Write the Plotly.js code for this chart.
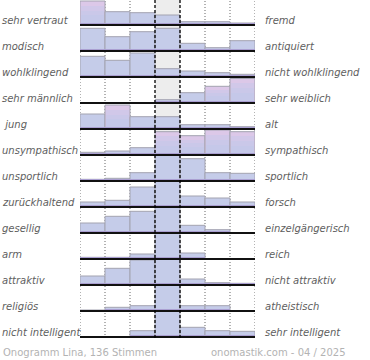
<!DOCTYPE html>
<html>
<head>
<meta charset="utf-8">
<script src="https://cdn.plot.ly/plotly-3.0.1.min.js"></script>
<style>html,body{margin:0;padding:0;background:#fff}#chart{width:370px;height:360px}</style>
</head>
<body>
<div id="chart"></div>
<script>
// ---- data ----
const leftLabels = ["sehr vertraut","modisch","wohlklingend","sehr männlich","\u00a0jung","unsympathisch","unsportlich","zurückhaltend","gesellig","arm","attraktiv","religiös","nicht intelligent"];
const rightLabels = ["fremd","antiquiert","nicht wohlklingend","sehr weiblich","alt","sympathisch","sportlich","forsch","einzelgängerisch","reich","nicht attraktiv","atheistisch","sehr intelligent"];
const scalePoints = [1,2,3,4,5,6,7];
// vote share per scale point, one list per row (row max ~26)
const shares = [
  [24, 13.3, 12.3, 10, 3.3, 3.3, 2],
  [22.7, 14.3, 19.3, 22.7, 7.7, 3.3, 10.3],
  [20.7, 16.7, 24, 8.3, 6, 4.3, 2.7],
  [0, 0, 0, 3.3, 10.3, 16.7, 24.5],
  [15, 24, 12.3, 12.3, 4.3, 4.3, 2.3],
  [2.7, 4, 7.3, 23.3, 19.3, 25, 23.3],
  [1.7, 2.7, 8.3, 26, 22.3, 8.3, 7.7],
  [5, 6.7, 20, 25.7, 11, 9, 5],
  [10, 16.7, 21.7, 26, 7.7, 3.3, 0],
  [1.7, 1.7, 5, 26, 6, 0.5, 0],
  [9, 16.7, 25, 26, 6, 2.3, 1.7],
  [1, 3.7, 5.3, 26, 5.3, 5.3, 0.5],
  [0.5, 0.5, 6.3, 26, 9.7, 6.3, 5.7]
];
const footerLeft = "Onogramm Lina, 136 Stimmen";
const footerRight = "onomastik.com - 04 / 2025";

// ---- style ----
const pinkBars = [[0,0],[3,5],[3,6],[4,1],[5,3],[5,4],[5,5],[5,6]];
const blueCol = "#c5cce9", pinkCol = "#dcc8e8", stripCol = "#aa9fd1";
const W = 370, H = 360, L = 80, R = 115, T = 0, B = 22;
const plotH = H - T - B, plotW = W - L - R;
const rowH = 26, firstBase = 25;
const rowBase = k => plotH - (firstBase + rowH * k);
const pxX = px => (px - L) / plotW;
const labFont = {family: "DejaVu Sans", size: 10, color: "#5e5e5e", style: "italic"};
const footFont = {family: "DejaVu Sans", size: 10, color: "#b3b3b3"};

const traces = [];
const shapes = [];
const annotations = [];

shapes.push({type:"rect", xref:"x", yref:"paper", x0:3.5, x1:4.5, y0:0, y1:1, fillcolor:"#ededed", line:{width:0}, layer:"below"});
[0.5,1.5,2.5,5.5,6.5,7.5].forEach(x => shapes.push({type:"line", xref:"x", yref:"paper", x0:x, x1:x, y0:0, y1:1, line:{color:"#666", width:1, dash:"1px,2px"}, layer:"below"}));

shares.forEach((row, k) => {
  const b = rowBase(k);
  const bases = scalePoints.map(() => b);
  const isPink = row.map((v, j) => pinkBars.some(p => p[0] === k && p[1] === j));
  traces.push({type:"bar", x:scalePoints, y:row, base:bases, width:1,
    marker:{color:isPink.map(p => p ? pinkCol : blueCol), line:{color:"#a3a3b0", width:1}}, hoverinfo:"skip"});
  // gradient toward blue at the bottom of pink bars
  [0.8, 0.6, 0.4].forEach(f => {
    traces.push({type:"bar", x:scalePoints, y:row.map((v, j) => isPink[j] ? v * f : 0), base:bases, width:0.92,
      marker:{color:"rgba(190,200,234,0.35)", line:{width:0}}, hoverinfo:"skip"});
  });
  traces.push({type:"bar", x:scalePoints, y:row.map(v => Math.min(v, 2.5)), base:bases, width:1,
    marker:{color:stripCol, line:{width:0}}, hoverinfo:"skip"});
  shapes.push({type:"line", xref:"x", yref:"y", x0:0.5, x1:7.5, y0:b, y1:b, line:{color:"#111", width:2}});
  annotations.push({xref:"paper", yref:"y", x:pxX(0), y:b + 5, xanchor:"left", yanchor:"middle", text:leftLabels[k], showarrow:false, font:labFont});
  annotations.push({xref:"paper", yref:"y", x:pxX(263), y:b + 5, xanchor:"left", yanchor:"middle", text:rightLabels[k], showarrow:false, font:labFont});
});

[3.5,4.5].forEach(x => shapes.push({type:"line", xref:"x", yref:"paper", x0:x, x1:x, y0:0, y1:1, line:{color:"#000", width:1.3, dash:"3px,2px"}}));

annotations.push({xref:"paper", yref:"paper", x:pxX(1), y:-14/plotH, xanchor:"left", yanchor:"middle", text:footerLeft, showarrow:false, font:footFont});
annotations.push({xref:"paper", yref:"paper", x:pxX(348), y:-14/plotH, xanchor:"right", yanchor:"middle", text:footerRight, showarrow:false, font:footFont});

const layout = {
  width:W, height:H, autosize:false,
  margin:{l:L, r:R, t:T, b:B, pad:0},
  paper_bgcolor:"#fff", plot_bgcolor:"rgba(0,0,0,0)",
  barmode:"overlay", bargap:0,
  xaxis:{range:[0.5,7.5], showgrid:false, zeroline:false, showticklabels:false, ticks:"", fixedrange:true},
  yaxis:{range:[0,plotH], showgrid:false, zeroline:false, showticklabels:false, ticks:"", fixedrange:true},
  shapes:shapes, annotations:annotations, showlegend:false
};
Plotly.newPlot("chart", traces, layout, {displayModeBar:false, staticPlot:true});
</script>
</body>
</html>
